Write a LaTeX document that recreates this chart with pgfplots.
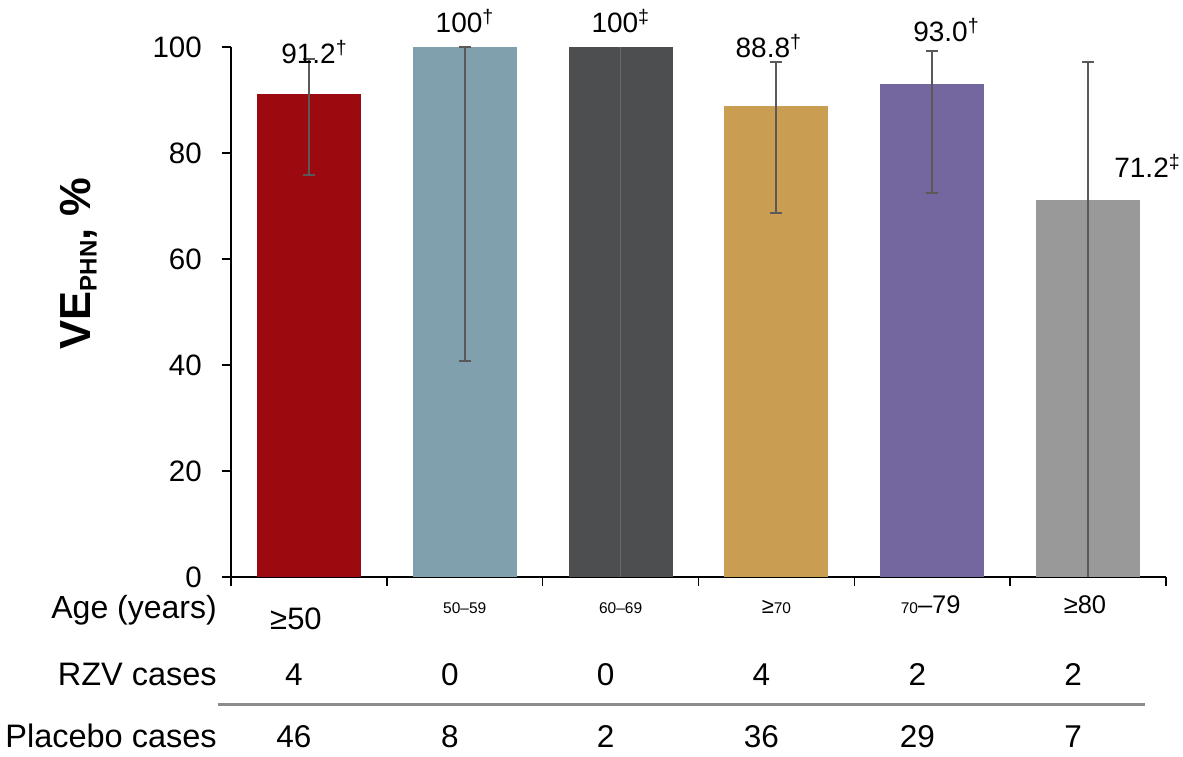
\documentclass[border=0pt]{standalone}
\usepackage{fontspec}
\setmainfont{Liberation Sans}
\usepackage{pgfplots}
\pgfplotsset{compat=1.18}

\definecolor{cRed}{HTML}{9C0A10}
\definecolor{cBlue}{HTML}{81A0AD}
\definecolor{cDark}{HTML}{4D4E50}
\definecolor{cTan}{HTML}{C99E52}
\definecolor{cPurple}{HTML}{74669E}
\definecolor{cGray}{HTML}{999999}
\definecolor{errGray}{HTML}{595959}
\definecolor{ruleGray}{HTML}{8C8C8C}

\newcommand{\fs}[1]{\fontsize{#1}{#1}\selectfont}

\pgfplotsset{
  vebar/.style={ybar, bar width=104pt, bar shift=0pt, draw=none, fill=#1,
    error bars/.cd, y dir=both, y explicit,
    error bar style={line width=2pt, draw=errGray},
    error mark options={rotate=90, mark size=6pt, line width=2pt, draw=errGray}},
}

\begin{document}
\begin{tikzpicture}[x=1pt,y=1pt]
\useasboundingbox (0,0) rectangle (1183,756);
\begin{axis}[
  at={(231pt,179pt)}, anchor=south west,
  scale only axis, width=935pt, height=530pt,
  xmin=-0.5, xmax=5.5, ymin=0, ymax=100,
  axis x line=bottom, axis y line=left,
  axis line style={-, line width=1.6pt, black},
  xtick={-0.5,0.5,1.5,2.5,3.5,4.5,5.5}, xticklabels={},
  ytick={0,20,40,60,80,100},
  tick align=outside, major tick length=9pt,
  tick style={line width=1.6pt, black},
  /pgf/number format/assume math mode=true,
  yticklabel style={font=\fs{29.5}, inner sep=0pt, xshift=-20pt},
  ylabel={\fs{43.5}\bfseries VE\raisebox{-6pt}{\fs{24}PHN}, \%},
  every axis y label/.style={at={(axis description cs:-0.1626,0.5915)}, rotate=90, anchor=center},
  clip mode=individual,
]
% efficacy with 95% confidence limits (ep = upper - VE, em = VE - lower)
\addplot[vebar=cRed]    table[x=x, y=y, y error plus=ep, y error minus=em, row sep=\\] {x y ep em \\ 0 91.2 6.5 15.3 \\};
\addplot[vebar=cBlue]   table[x=x, y=y, y error plus=ep, y error minus=em, row sep=\\] {x y ep em \\ 1 100 0 59.2 \\};
\addplot[ybar, bar width=104pt, bar shift=0pt, draw=none, fill=cDark,
  error bars/.cd, y dir=minus, y explicit,
  error bar style={line width=1pt, draw=errGray!90}, error mark=none]
  table[x=x, y=y, y error plus=ep, y error minus=em, row sep=\\] {x y ep em \\ 2 100 0 536.6 \\};
\addplot[vebar=cTan]    table[x=x, y=y, y error plus=ep, y error minus=em, row sep=\\] {x y ep em \\ 3 88.8 8.3 20.1 \\};
\addplot[vebar=cPurple] table[x=x, y=y, y error plus=ep, y error minus=em, row sep=\\] {x y ep em \\ 4 93.0 6.2 20.6 \\};
\addplot[vebar=cGray]   table[x=x, y=y, y error plus=ep, y error minus=em, row sep=\\] {x y ep em \\ 5 71.2 25.9 122.7 \\};

% value labels
\node[font=\fs{28}] at (axis cs:0.034,99)  {91.2\textsuperscript{†}};
\node[font=\fs{28}] at (axis cs:1.0,104.9) {100\textsuperscript{†}};
\node[font=\fs{28}] at (axis cs:2.0,104.9) {100\textsuperscript{‡}};
\node[font=\fs{28}] at (axis cs:2.95,100.2) {88.8\textsuperscript{†}};
\node[font=\fs{28}] at (axis cs:4.09,103.2) {93.0\textsuperscript{†}};
\node[font=\fs{28}] at (axis cs:5.38,77.5)  {71.2\textsuperscript{‡}};

% table under the bars
\node[anchor=base east, inner sep=0pt, font=\fs{32}] at (axis cs:-0.59,-7.8) {Age (years)};
\node[anchor=base, font=\fs{31}] at (axis cs:-0.083,-10) {≥50};
\node[anchor=base, font=\fs{15.5}] at (axis cs:1.0,-6.8) {50–59};
\node[anchor=base, font=\fs{15.5}] at (axis cs:2.0,-6.8) {60–69};
\node[anchor=base] at (axis cs:3.0,-6.98) {{\fs{22}≥}{\fs{15.5}70}};
\node[anchor=base] at (axis cs:3.99,-6.98) {{\fs{15.5}70}{\fs{25.5}–79}};
\node[anchor=base, font=\fs{25.5}] at (axis cs:4.98,-6.98) {≥80};

\node[anchor=base east, inner sep=0pt, font=\fs{32.5}] at (axis cs:-0.59,-20.57) {RZV cases};
\node[anchor=base, font=\fs{31.5}] at (axis cs:-0.096,-20.57) {4};
\node[anchor=base, font=\fs{31.5}] at (axis cs:0.904,-20.57) {0};
\node[anchor=base, font=\fs{31.5}] at (axis cs:1.904,-20.57) {0};
\node[anchor=base, font=\fs{31.5}] at (axis cs:2.904,-20.57) {4};
\node[anchor=base, font=\fs{31.5}] at (axis cs:3.904,-20.57) {2};
\node[anchor=base, font=\fs{31.5}] at (axis cs:4.904,-20.57) {2};

\draw[line width=3pt, ruleGray] (axis cs:-0.583,-24.15) -- (axis cs:5.365,-24.15);

\node[anchor=base east, inner sep=0pt, font=\fs{32.5}] at (axis cs:-0.59,-32.26) {Placebo cases};
\node[anchor=base, font=\fs{31.5}] at (axis cs:-0.096,-32.26) {46};
\node[anchor=base, font=\fs{31.5}] at (axis cs:0.904,-32.26) {8};
\node[anchor=base, font=\fs{31.5}] at (axis cs:1.904,-32.26) {2};
\node[anchor=base, font=\fs{31.5}] at (axis cs:2.904,-32.26) {36};
\node[anchor=base, font=\fs{31.5}] at (axis cs:3.904,-32.26) {29};
\node[anchor=base, font=\fs{31.5}] at (axis cs:4.904,-32.26) {7};
\end{axis}
\end{tikzpicture}
\end{document}
